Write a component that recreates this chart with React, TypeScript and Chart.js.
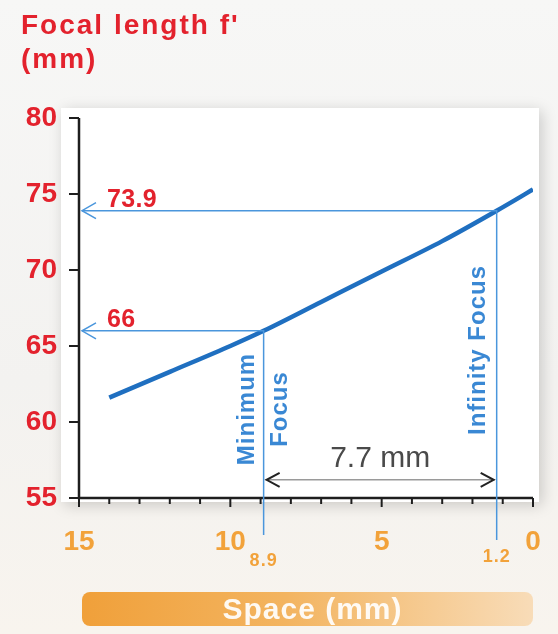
import React, { useEffect, useRef } from "react";
import { Chart, registerables } from "chart.js";

Chart.register(...registerables);

// ---- data ----
const spaceValues = [14, 12, 10, 8.9, 7, 5, 3, 1.2, 0];
const focalValues = [61.6, 63.3, 65.0, 66.0, 67.9, 69.9, 71.9, 73.9, 75.3];
const minFocus = { space: 8.9, focal: 66 };
const infFocus = { space: 1.2, focal: 73.9 };
const travelLabel = "7.7 mm";
const travelLevel = 56.2;
const yTitle = ["Focal length f'", "(mm)"];
const xTitle = "Space (mm)";

const RED = "#e3222d";
const ORANGE = "#f2a23a";
const BLUE = "#1f6fc0";
const LIGHTBLUE = "#4a96dc";
const FONT = "'Liberation Sans', Arial, sans-serif";

const annotationPlugin = {
  id: "annot",
  beforeDraw(chart: any) {
    const { ctx, chartArea } = chart;
    ctx.save();
    ctx.shadowColor = "rgba(0,0,0,0.18)";
    ctx.shadowBlur = 14;
    ctx.shadowOffsetX = 3;
    ctx.shadowOffsetY = 3;
    ctx.fillStyle = "#ffffff";
    ctx.fillRect(chartArea.left - 18, chartArea.top - 10, chartArea.right - chartArea.left + 24, chartArea.bottom - chartArea.top + 14);
    ctx.restore();
  },
  afterDraw(chart: any) {
    const { ctx, chartArea } = chart;
    const xs = chart.scales.x;
    const ys = chart.scales.y;
    const px = (v: number) => xs.getPixelForValue(v);
    const py = (v: number) => ys.getPixelForValue(v);
    ctx.save();

    // axes
    ctx.strokeStyle = "#1e1e1e";
    ctx.lineWidth = 2.5;
    ctx.beginPath();
    ctx.moveTo(chartArea.left, chartArea.top);
    ctx.lineTo(chartArea.left, chartArea.bottom);
    ctx.lineTo(chartArea.right, chartArea.bottom);
    ctx.stroke();
    ctx.lineWidth = 2;
    for (let v = 55; v <= 80; v += 5) {
      ctx.beginPath();
      ctx.moveTo(chartArea.left - 10, py(v));
      ctx.lineTo(chartArea.left, py(v));
      ctx.stroke();
    }
    for (let v = 0; v <= 15; v += 1) {
      const len = v % 5 === 0 ? 9 : 6;
      ctx.beginPath();
      ctx.moveTo(px(v), chartArea.bottom);
      ctx.lineTo(px(v), chartArea.bottom + len);
      ctx.stroke();
    }

    // guide lines
    ctx.strokeStyle = LIGHTBLUE;
    ctx.lineWidth = 1.5;
    const arrowLeft = (y: number) => {
      const x0 = chartArea.left + 3;
      ctx.beginPath();
      ctx.moveTo(x0 + 14, y - 8);
      ctx.lineTo(x0, y);
      ctx.lineTo(x0 + 14, y + 8);
      ctx.stroke();
    };
    [minFocus, infFocus].forEach((p, i) => {
      const y = py(p.focal);
      const x = px(p.space);
      ctx.beginPath();
      ctx.moveTo(chartArea.left + 3, y);
      ctx.lineTo(x, y);
      ctx.lineTo(x, chartArea.bottom + (i === 0 ? 37 : 42));
      ctx.stroke();
      arrowLeft(y);
    });

    // value labels
    ctx.fillStyle = RED;
    ctx.font = `bold 25px ${FONT}`;
    (ctx as any).letterSpacing = "0.3px";
    ctx.textAlign = "left";
    ctx.textBaseline = "alphabetic";
    ctx.fillText(String(infFocus.focal), chartArea.left + 28, py(infFocus.focal) - 4);
    ctx.fillText(String(minFocus.focal), chartArea.left + 28, py(minFocus.focal) - 4);

    // small x labels
    ctx.fillStyle = ORANGE;
    ctx.font = `bold 18px ${FONT}`;
    (ctx as any).letterSpacing = "1px";
    ctx.textAlign = "center";
    ctx.textBaseline = "middle";
    ctx.fillText(String(minFocus.space), px(minFocus.space), chartArea.bottom + 63);
    ctx.fillText(String(infFocus.space), px(infFocus.space), chartArea.bottom + 59);

    // rotated labels
    ctx.fillStyle = "#3a88d4";
    ctx.font = `bold 24px ${FONT}`;
    (ctx as any).letterSpacing = "1px";
    ctx.textAlign = "center";
    ctx.textBaseline = "middle";
    const rot = (text: string, x: number, y: number) => {
      ctx.save();
      ctx.translate(x, y);
      ctx.rotate(-Math.PI / 2);
      ctx.fillText(text, 0, 0);
      ctx.restore();
    };
    const xm = px(minFocus.space);
    rot("Minimum", xm - 16, 409);
    rot("Focus", xm + 17, 409);
    rot("Infinity Focus", px(infFocus.space) - 18, 350);

    // travel double arrow
    const ya = py(travelLevel);
    const xa = px(minFocus.space);
    const xb = px(infFocus.space);
    ctx.strokeStyle = "#9a9a9a";
    ctx.lineWidth = 1.5;
    ctx.beginPath();
    ctx.moveTo(xa + 2, ya);
    ctx.lineTo(xb - 2, ya);
    ctx.stroke();
    ctx.strokeStyle = "#222";
    ctx.lineWidth = 2;
    ctx.beginPath();
    ctx.moveTo(xa + 16, ya - 7);
    ctx.lineTo(xa + 3, ya);
    ctx.lineTo(xa + 16, ya + 7);
    ctx.moveTo(xb - 16, ya - 7);
    ctx.lineTo(xb - 3, ya);
    ctx.lineTo(xb - 16, ya + 7);
    ctx.stroke();
    ctx.fillStyle = "#4a4a4a";
    ctx.font = `30px ${FONT}`;
    (ctx as any).letterSpacing = "0px";
    ctx.textAlign = "center";
    ctx.textBaseline = "alphabetic";
    ctx.fillText(travelLabel, (xa + xb) / 2, ya - 13);

    ctx.restore();
  },
};

export default function App() {
  const ref = useRef<HTMLCanvasElement>(null);
  useEffect(() => {
    document.body.style.margin = "0";
    const chart = new Chart(ref.current!, {
      type: "line",
      data: {
        datasets: [
          {
            data: spaceValues.map((x, i) => ({ x, y: focalValues[i] })),
            borderColor: BLUE,
            borderWidth: 4.5,
            pointRadius: 0,
            tension: 0.4,
            cubicInterpolationMode: "monotone",
            fill: false,
          },
        ],
      },
      options: {
        responsive: false,
        animation: false,
        layout: { padding: { top: 118, left: 0, right: 25, bottom: 76 } },
        plugins: { legend: { display: false }, tooltip: { enabled: false } },
        scales: {
          x: {
            type: "linear",
            reverse: true,
            min: 0,
            max: 15,
            afterFit: (s: any) => {
              s.height = 60;
              s.paddingLeft = 0;
              s.paddingRight = 0;
            },
            ticks: {
              stepSize: 5,
              color: ORANGE,
              font: { size: 28, weight: "bold", family: FONT },
              padding: 27,
              maxRotation: 0,
            },
            grid: { display: false, drawTicks: false },
            border: { display: false },
          },
          y: {
            min: 55,
            max: 80,
            afterFit: (s: any) => {
              s.width = 79;
              s.paddingTop = 0;
              s.paddingBottom = 0;
            },
            ticks: {
              stepSize: 5,
              color: RED,
              font: { size: 28, weight: "bold", family: FONT },
              padding: 22,
            },
            grid: { display: false, drawTicks: false },
            border: { display: false },
          },
        },
      } as any,
      plugins: [annotationPlugin],
    });
    return () => chart.destroy();
  }, []);

  return (
    <div
      style={{
        position: "fixed",
        left: 0,
        top: 0,
        width: 558,
        height: 634,
        background: "linear-gradient(180deg, #f7f7f6 0%, #f3f2f0 60%, #f8f4ee 100%)",
        overflow: "hidden",
        fontFamily: FONT,
      }}
    >
      <canvas ref={ref} width={558} height={634} style={{ position: "absolute", left: 0, top: 0 }} />
      <div
        style={{
          position: "absolute",
          left: 21,
          top: 8,
          color: RED,
          fontWeight: "bold",
          fontSize: 28,
          lineHeight: "34px",
          letterSpacing: "2px",
        }}
      >
        <div>{yTitle[0]}</div>
        <div>{yTitle[1]}</div>
      </div>
      <div
        style={{
          position: "absolute",
          left: 82,
          top: 592,
          width: 451,
          height: 34,
          borderRadius: 8,
          background: "linear-gradient(90deg, #f0a03a 0%, #f3b460 45%, #f8dcb8 100%)",
          color: "rgba(255,255,255,0.92)",
          fontWeight: "bold",
          fontSize: 30,
          lineHeight: "34px",
          textAlign: "center",
          letterSpacing: "1px",
          boxSizing: "border-box",
          paddingLeft: 10,
        }}
      >
        {xTitle}
      </div>
    </div>
  );
}
